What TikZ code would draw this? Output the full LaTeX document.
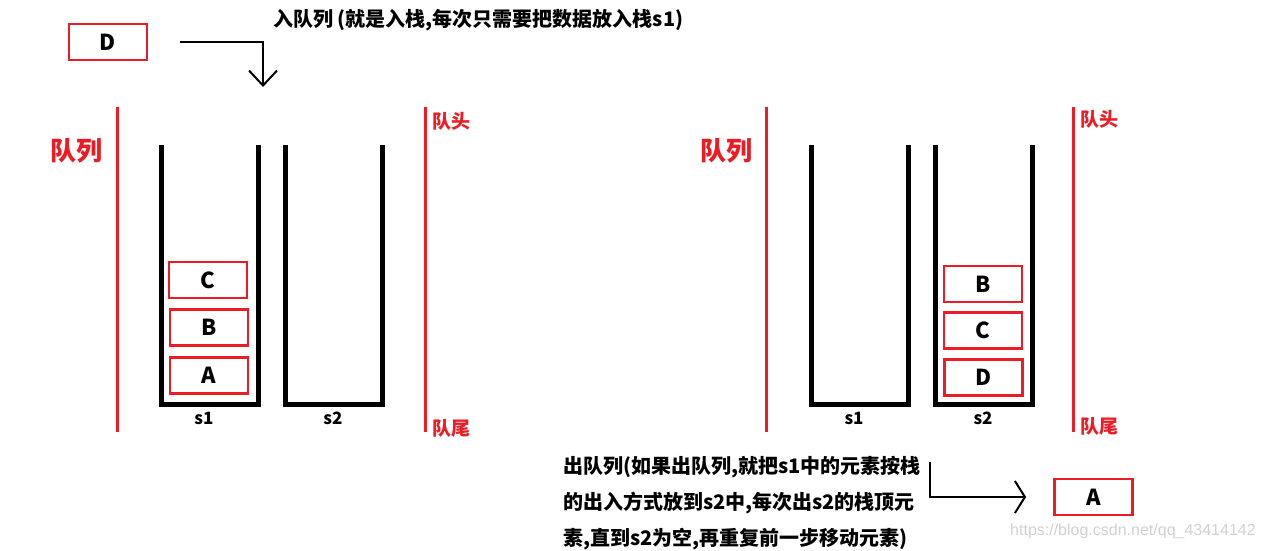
\documentclass[tikz,border=0pt]{standalone}
\usepackage{fontspec}
\setmainfont{Noto Sans CJK SC}
\newfontfamily\markfont{Liberation Sans}
\usetikzlibrary{arrows.meta}
\definecolor{qred}{RGB}{237,28,36}

\begin{document}
\begin{tikzpicture}[
  x=1pt, y=-1pt,
  elem/.style={draw=qred, line width=2.8pt, minimum width=78pt,
               minimum height=36pt, inner sep=0pt, font=\fontsize{22}{22}\selectfont\bfseries},
  stack/.style={line width=5pt},
  bound/.style={qred, line width=3pt},
  side/.style={text=qred, anchor=west, inner sep=0pt, font=\fontsize{19}{19}\selectfont\bfseries},
  qtitle/.style={text=qred, anchor=west, inner sep=0pt, font=\fontsize{26}{26}\selectfont\bfseries},
  slabel/.style={inner sep=0pt, font=\fontsize{17}{17}\selectfont\bfseries},
  note/.style={anchor=west, inner sep=0pt, align=left, font=\fontsize{20}{36}\selectfont\bfseries},
  flow/.style={line width=2pt, -{Straight Barb[length=15pt, width=28pt, line width=2pt]}},
  flowout/.style={line width=2pt, -{Straight Barb[length=10pt, width=32pt, line width=2pt]}}
]
\useasboundingbox (0,0) rectangle (1265,550);

% ====================== ENQUEUE ======================
\node[elem] (dIn) at (108,42) {D};
\coordinate (inTip) at (263,87);
\draw[flow] ([xshift=32pt]dIn.east) -| (inTip);
\node[note] (inText) at (273,20) {入队列 (就是入栈,每次只需要把数据放入栈s1)};

% ====================== LEFT QUEUE ======================
\draw[bound] (117,107) -- (117,432);
\draw[bound] (425,107) -- (425,432);
\node[qtitle] (qL) at (50,151) {队列};
\node[side] (headL) at (432,121) {队头};
\node[side] (tailL) at (432,428) {队尾};
% stacks
\draw[stack] (161,145) |- (258,404) -- (258,145);
\draw[stack] (285,145) |- (382,404) -- (382,145);
\node[slabel] (s1L) at (204,418) {s1};
\node[slabel] (s2L) at (333,418) {s2};
\node[elem] (cL) at (208,280) {C};
\node[elem] (bL) at (209,327.5) {B};
\node[elem] (aL) at (209,375.5) {A};

% ====================== RIGHT QUEUE ======================
\draw[bound] (766,107) -- (766,432);
\draw[bound] (1073,107) -- (1073,432);
\node[qtitle] (qR) at (700,151) {队列};
\node[side] (headR) at (1080,119) {队头};
\node[side] (tailR) at (1080,426) {队尾};
% stacks
\draw[stack] (811,145) |- (908,404) -- (908,145);
\draw[stack] (935,145) |- (1032,404) -- (1032,145);
\node[slabel] (s1R) at (854,418) {s1};
\node[slabel] (s2R) at (983,418) {s2};
\node[elem] (bR) at (983,284) {B};
\node[elem] (cR) at (983,330.5) {C};
\node[elem] (dR) at (983.5,377.5) {D};

% ====================== DEQUEUE ======================
\node[note] (outText) at (563,503) {出队列(如果出队列,就把s1中的元素按栈\\的出入方式放到s2中,每次出s2的栈顶元\\素,直到s2为空,再重复前一步移动元素)};
\node[elem] (aOut) at (1093.5,497) {A};
\coordinate (outStart) at (930,462);
\draw[flowout] (outStart) |- ([xshift=-27pt]aOut.west);

\node[anchor=west, inner sep=0pt, text=black!18, font=\markfont\fontsize{16}{16}\selectfont]
  (mark) at (1010,531) {https://blog.csdn.net/qq\_43414142};

\end{tikzpicture}
\end{document}
